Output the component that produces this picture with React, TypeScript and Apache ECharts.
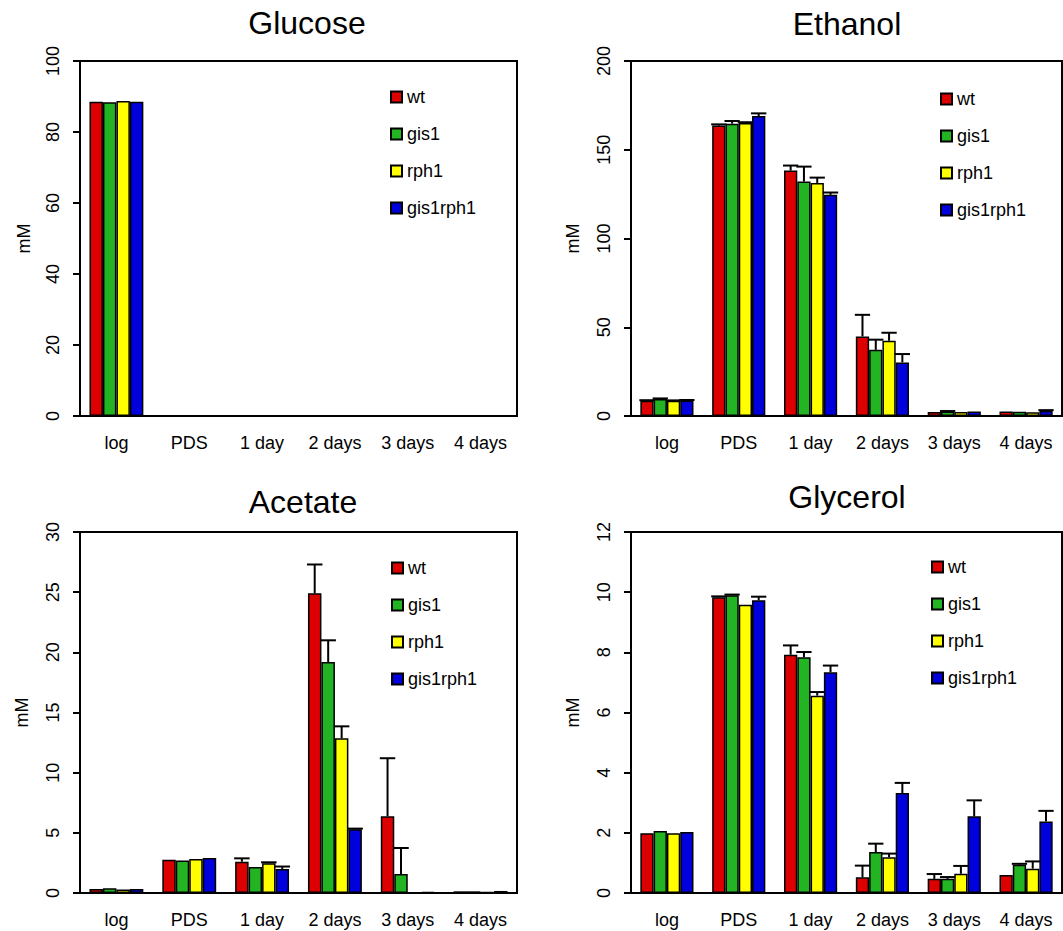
import React, { useEffect, useRef } from "react";
import * as echarts from "echarts";

const categories = ["log", "PDS", "1 day", "2 days", "3 days", "4 days"];
const strains = ["wt", "gis1", "rph1", "gis1rph1"];
const strainColors = ["#dd0000", "#22b422", "#ffff00", "#0000dd"];
const panelTitles = ["Glucose", "Ethanol", "Acetate", "Glycerol"];
const yMax = [100, 200, 30, 12];
const yStep = [20, 50, 5, 2];

// Glucose (mM)
const glucoseWt = [88.5, 0, 0, 0, 0, 0];
const glucoseGis1 = [88.4, 0, 0, 0, 0, 0];
const glucoseRph1 = [88.7, 0, 0, 0, 0, 0];
const glucoseGis1rph1 = [88.5, 0, 0, 0, 0, 0];
const glucoseSdWt = [0, 0, 0, 0, 0, 0];
const glucoseSdGis1 = [0, 0, 0, 0, 0, 0];
const glucoseSdRph1 = [0, 0, 0, 0, 0, 0];
const glucoseSdGis1rph1 = [0, 0, 0, 0, 0, 0];

// Ethanol (mM)
const ethanolWt = [8.6, 163.6, 138.3, 44.8, 2.3, 2.6];
const ethanolGis1 = [9.6, 164.7, 132.1, 37.3, 2.6, 2.4];
const ethanolRph1 = [8.6, 165.1, 131.3, 42.4, 2.3, 2.1];
const ethanolGis1rph1 = [8.8, 169.0, 124.6, 30.2, 2.6, 3.0];
const ethanolSdWt = [0.3, 0.7, 2.8, 12.2, 0, 0];
const ethanolSdGis1 = [0.3, 1.5, 8.4, 5.7, 0.2, 0];
const ethanolSdRph1 = [0.2, 0.4, 3.0, 4.5, 0, 0];
const ethanolSdGis1rph1 = [0.2, 1.5, 1.3, 4.7, 0, 0.3];

// Acetate (mM)
const acetateWt = [0.33, 2.77, 2.6, 24.9, 6.37, 0.14];
const acetateGis1 = [0.39, 2.71, 2.16, 19.2, 1.58, 0.14];
const acetateRph1 = [0.3, 2.83, 2.47, 12.85, 0.05, 0.1];
const acetateGis1rph1 = [0.33, 2.91, 2.0, 5.3, 0.1, 0.17];
const acetateSdWt = [0, 0, 0.28, 2.4, 4.83, 0];
const acetateSdGis1 = [0, 0, 0, 1.8, 2.16, 0];
const acetateSdRph1 = [0, 0, 0.08, 1.0, 0, 0];
const acetateSdGis1rph1 = [0, 0, 0.2, 0.05, 0, 0];

// Glycerol (mM)
const glycerolWt = [1.99, 9.83, 7.92, 0.52, 0.47, 0.6];
const glycerolGis1 = [2.06, 9.9, 7.84, 1.36, 0.47, 0.94];
const glycerolRph1 = [1.99, 9.58, 6.56, 1.19, 0.64, 0.81];
const glycerolGis1rph1 = [2.03, 9.73, 7.34, 3.32, 2.55, 2.38];
const glycerolSdWt = [0, 0.03, 0.31, 0.39, 0.16, 0];
const glycerolSdGis1 = [0, 0.02, 0.17, 0.28, 0.06, 0.03];
const glycerolSdRph1 = [0, 0, 0.12, 0.12, 0.26, 0.24];
const glycerolSdGis1rph1 = [0, 0.12, 0.22, 0.34, 0.53, 0.35];

const panelValues = [
  [glucoseWt, glucoseGis1, glucoseRph1, glucoseGis1rph1],
  [ethanolWt, ethanolGis1, ethanolRph1, ethanolGis1rph1],
  [acetateWt, acetateGis1, acetateRph1, acetateGis1rph1],
  [glycerolWt, glycerolGis1, glycerolRph1, glycerolGis1rph1],
];
const panelSds = [
  [glucoseSdWt, glucoseSdGis1, glucoseSdRph1, glucoseSdGis1rph1],
  [ethanolSdWt, ethanolSdGis1, ethanolSdRph1, ethanolSdGis1rph1],
  [acetateSdWt, acetateSdGis1, acetateSdRph1, acetateSdGis1rph1],
  [glycerolSdWt, glycerolSdGis1, glycerolSdRph1, glycerolSdGis1rph1],
];

const FONT = "'Liberation Sans', Arial, Helvetica, sans-serif";
const CAT_GAP = 0.26;

// layout
const grids = [
  { left: 80, top: 61, width: 437, height: 355 },
  { left: 631, top: 61, width: 431, height: 355 },
  { left: 80, top: 532, width: 437, height: 361 },
  { left: 631, top: 532, width: 431, height: 361 },
];
const titlePos = [
  [307, 23],
  [847, 24],
  [303, 502],
  [847, 497],
];
const legendPos = [
  { left: 390, top: 88 },
  { left: 940, top: 90 },
  { left: 391, top: 559 },
  { left: 931, top: 558 },
];
const nameGaps = [47, 49, 49, 49];

function buildOption() {
  const series: any[] = [];
  for (let p = 0; p < 4; p++) {
    for (let s = 0; s < 4; s++) {
      series.push({
        type: "bar",
        name: strains[s],
        xAxisIndex: p,
        yAxisIndex: p,
        data: panelValues[p][s],
        barGap: "0%",
        barCategoryGap: CAT_GAP * 100 + "%",
        itemStyle: { color: strainColors[s], borderColor: "#000", borderWidth: 1.5 },
        emphasis: { disabled: true },
        z: 2,
      });
    }
    for (let s = 0; s < 4; s++) {
      const vals = panelValues[p][s];
      const sds = panelSds[p][s];
      series.push({
        type: "custom",
        name: strains[s] + " sd",
        xAxisIndex: p,
        yAxisIndex: p,
        silent: true,
        z: 3,
        encode: { x: 0, y: 2 },
        data: vals.map((v, i) => [i, v, v + sds[i], sds[i]]),
        renderItem: (params: any, api: any) => {
          const sd = api.value(3);
          if (!(sd > 0)) return null;
          const top = api.coord([api.value(0), api.value(2)]);
          const base = api.coord([api.value(0), api.value(1)]);
          const band = api.size([1, 0])[0];
          const bw = (band * (1 - CAT_GAP)) / 4;
          const x = top[0] + (s - 1.5) * bw;
          return {
            type: "group",
            children: [
              {
                type: "line",
                shape: { x1: x, y1: base[1], x2: x, y2: top[1] },
                style: { stroke: "#000", lineWidth: 2 },
              },
              {
                type: "line",
                shape: { x1: x - bw / 2 - 1, y1: top[1], x2: x + bw / 2 + 1, y2: top[1] },
                style: { stroke: "#000", lineWidth: 2 },
              },
            ],
          };
        },
      });
    }
  }

  return {
    animation: false,
    backgroundColor: "#fff",
    textStyle: { fontFamily: FONT, color: "#000" },
    grid: grids.map((g) => ({ ...g, show: true, borderColor: "#000", borderWidth: 2, containLabel: false })),
    xAxis: grids.map((_, p) => ({
      type: "category",
      gridIndex: p,
      data: categories,
      boundaryGap: true,
      axisLine: { show: true, lineStyle: { color: "#000", width: 2 } },
      axisTick: { show: false },
      axisLabel: { interval: 0, fontSize: 18, color: "#000", fontFamily: FONT, margin: 18 },
      splitLine: { show: false },
    })),
    yAxis: grids.map((_, p) => ({
      type: "value",
      gridIndex: p,
      min: 0,
      max: yMax[p],
      interval: yStep[p],
      name: "mM",
      nameLocation: "middle",
      nameGap: nameGaps[p],
      nameTextStyle: { fontSize: 18, color: "#000", fontFamily: FONT },
      axisLine: { show: true, lineStyle: { color: "#000", width: 2 } },
      axisTick: { show: true, length: 7, lineStyle: { color: "#000", width: 2 } },
      axisLabel: { rotate: 90, fontSize: 18, color: "#000", fontFamily: FONT, margin: 18 },
      splitLine: { show: false },
    })),
    legend: legendPos.map((lp) => ({
      ...lp,
      orient: "vertical",
      data: strains,
      icon: "rect",
      itemWidth: 11,
      itemHeight: 11,
      itemGap: 19,
      padding: 0,
      selectedMode: false,
      textStyle: { fontSize: 18, lineHeight: 18, color: "#000", fontFamily: FONT },
    })),
    graphic: panelTitles.map((t, p) => ({
      type: "text",
      x: titlePos[p][0],
      y: titlePos[p][1],
      style: {
        text: t,
        fontSize: 32,
        fontFamily: FONT,
        fill: "#000",
        textAlign: "center",
        textVerticalAlign: "middle",
      },
    })),
    series,
  };
}

export default function App() {
  const ref = useRef<HTMLDivElement>(null);
  useEffect(() => {
    if (!ref.current) return;
    const chart = echarts.init(ref.current, undefined, { renderer: "svg" });
    chart.setOption(buildOption() as any);
    return () => chart.dispose();
  }, []);
  return (
    <div
      ref={ref}
      style={{ position: "fixed", left: 0, top: 0, width: 1063, height: 931, background: "#fff" }}
    />
  );
}
